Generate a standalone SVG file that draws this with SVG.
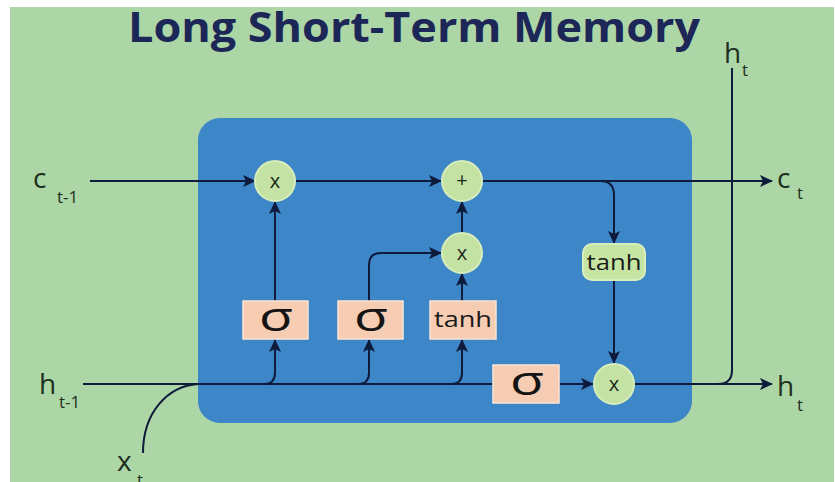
<svg xmlns="http://www.w3.org/2000/svg" width="835" height="482" viewBox="0 0 835 482">
  <defs>
    <marker id="arrow" markerUnits="userSpaceOnUse" markerWidth="14" markerHeight="12" refX="12" refY="6" orient="auto">
      <path d="M0,0 L13,6 L0,12 L3,6 Z" fill="#0e1b3d"/>
    </marker>
    <style>
      .wire { fill: none; stroke: #0e1b3d; stroke-width: 2; }
      .arr { marker-end: url(#arrow); }
      .op { fill: #c3e2a3; stroke: #d6edbc; stroke-width: 2; }
      .op-text { font-family: "Open Sans", "DejaVu Sans", sans-serif; font-size: 20px; fill: #1a2a1a; text-anchor: middle; }
      .gate { fill: #f6cdb3; stroke: #fbe3d4; stroke-width: 1.5; }
      .sigma { font-family: "Open Sans", "DejaVu Sans", sans-serif; font-size: 40px; font-weight: 400; fill: #141414; text-anchor: middle; }
      .tanh { font-family: "Open Sans", "DejaVu Sans", sans-serif; font-size: 21px; fill: #1a1a1a; text-anchor: middle; }
      .lbl { font-family: "Open Sans", "DejaVu Sans", sans-serif; font-size: 28px; fill: #1d2f1d; }
      .sub { font-family: "Open Sans", "DejaVu Sans", sans-serif; font-size: 17px; fill: #1d2f1d; }
    </style>
  </defs>

  <!-- page -->
  <rect x="0" y="0" width="835" height="482" fill="#ffffff"/>
  <rect x="10" y="7" width="824" height="475" fill="#acd6a6"/>

  <!-- title -->
  <text x="414" y="42" text-anchor="middle" textLength="572" lengthAdjust="spacingAndGlyphs"
        font-family="'Open Sans', 'Liberation Sans', sans-serif" font-weight="700" font-size="41" fill="#1c2657">Long Short-Term Memory</text>

  <!-- cell body -->
  <g id="cell">
    <rect x="198" y="118" width="494" height="305" rx="22" ry="22" fill="#3d86c8"/>
  </g>

  <!-- connectors -->
  <g id="connectors">
    <path class="wire arr" d="M90,181 H255"/>
    <path class="wire arr" d="M296,181 H441"/>
    <path class="wire arr" d="M482,181 H772"/>
    <path class="wire arr" d="M600,181 Q614,181 614,195 V243"/>
    <path class="wire arr" d="M614,281 V363"/>
    <path class="wire" d="M83,384 H493"/>
    <path class="wire arr" d="M559,384 H593"/>
    <path class="wire arr" d="M634,384 H772"/>
    <path class="wire" d="M718,384 Q732,384 732,370 V68"/>
    <path class="wire" d="M143,453 C143,412 168,386 198,384"/>
    <path class="wire arr" d="M264,384 Q275,384 275,373 V340"/>
    <path class="wire arr" d="M275,301 V202"/>
    <path class="wire arr" d="M358,384 Q369,384 369,373 V340"/>
    <path class="wire arr" d="M369,301 V265 Q369,253 381,253 H441"/>
    <path class="wire arr" d="M451,384 Q462,384 462,373 V340"/>
    <path class="wire arr" d="M462,301 V274"/>
    <path class="wire arr" d="M462,233 V202"/>
  </g>

  <!-- forget multiply -->
  <g id="forget-mul">
    <circle class="op" cx="275" cy="181" r="20"/>
    <text class="op-text" x="275" y="188">x</text>
  </g>

  <!-- cell state add -->
  <g id="cell-add">
    <circle class="op" cx="462" cy="181" r="20"/>
    <text class="op-text" x="462" y="187" font-size="16">+</text>
  </g>

  <!-- input multiply -->
  <g id="input-mul">
    <circle class="op" cx="462" cy="253" r="20"/>
    <text class="op-text" x="462" y="260">x</text>
  </g>

  <!-- output multiply -->
  <g id="output-mul">
    <circle class="op" cx="614" cy="384" r="20"/>
    <text class="op-text" x="614" y="391">x</text>
  </g>

  <!-- tanh on cell state -->
  <g id="cell-tanh">
    <rect x="583" y="244" width="62" height="36" rx="9" ry="9" fill="#c6e4a2" stroke="#d8efbd" stroke-width="2"/>
    <text class="tanh" x="614" y="270" textLength="55" lengthAdjust="spacingAndGlyphs">tanh</text>
  </g>

  <!-- forget gate -->
  <g id="forget-gate">
    <rect class="gate" x="243" y="301" width="65" height="38"/>
    <text class="sigma" x="276" y="331" textLength="34" lengthAdjust="spacingAndGlyphs">σ</text>
  </g>

  <!-- input gate -->
  <g id="input-gate">
    <rect class="gate" x="338" y="301" width="65" height="38"/>
    <text class="sigma" x="371" y="331" textLength="34" lengthAdjust="spacingAndGlyphs">σ</text>
  </g>

  <!-- candidate tanh -->
  <g id="candidate-tanh">
    <rect class="gate" x="430" y="301" width="66" height="38"/>
    <text class="tanh" x="463" y="327" textLength="58" lengthAdjust="spacingAndGlyphs">tanh</text>
  </g>

  <!-- output gate -->
  <g id="output-gate">
    <rect class="gate" x="493" y="365" width="66" height="38"/>
    <text class="sigma" x="527" y="395" textLength="34" lengthAdjust="spacingAndGlyphs">σ</text>
  </g>

  <!-- labels -->
  <g id="label-c-prev">
    <text class="lbl" x="33" y="188">c</text>
    <text class="sub" x="57" y="203">t-1</text>
  </g>
  <g id="label-h-prev">
    <text class="lbl" x="39" y="394">h</text>
    <text class="sub" x="59" y="408">t-1</text>
  </g>
  <g id="label-x">
    <text class="lbl" x="117" y="471">x</text>
    <text class="sub" x="137" y="486">t</text>
  </g>
  <g id="label-c-out">
    <text class="lbl" x="777" y="188">c</text>
    <text class="sub" x="797" y="199">t</text>
  </g>
  <g id="label-h-out">
    <text class="lbl" x="777" y="396">h</text>
    <text class="sub" x="797" y="411">t</text>
  </g>
  <g id="label-h-up">
    <text class="lbl" x="724" y="63">h</text>
    <text class="sub" x="742" y="76">t</text>
  </g>
</svg>
